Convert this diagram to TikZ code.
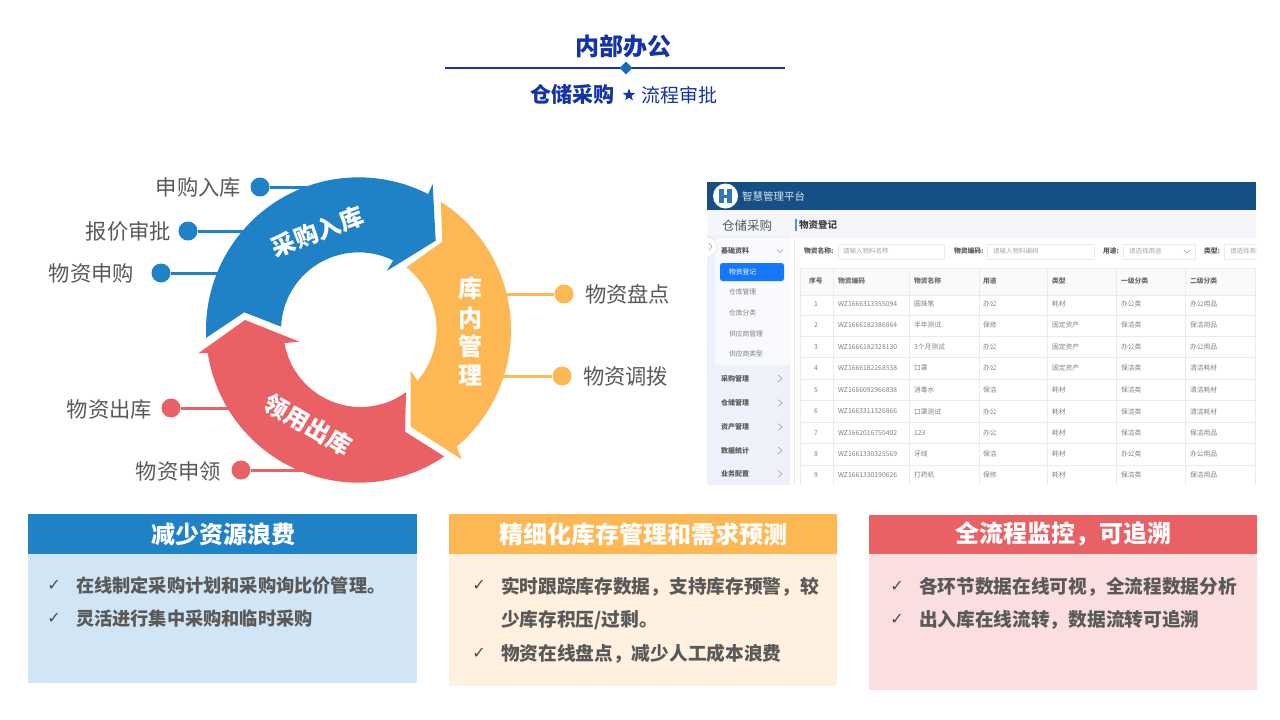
\documentclass[tikz,border=0pt]{standalone}
\usepackage{fontspec}
\setmainfont{Noto Sans CJK SC}
\newfontfamily\dejavu{DejaVu Sans}
\usetikzlibrary{shapes.geometric}
\newcommand\fz[1]{\fontsize{#1}{#1}\selectfont}
\definecolor{cblue}{HTML}{1F81C6}
\definecolor{corange}{HTML}{FDB853}
\definecolor{cred}{HTML}{E96065}
\definecolor{navy}{HTML}{1433A6}
\definecolor{lbl}{HTML}{595959}
\definecolor{bodyblue}{HTML}{D2E5F4}
\definecolor{bodyorange}{HTML}{FFF0DF}
\definecolor{bodyred}{HTML}{FADEE0}
\definecolor{uihead}{HTML}{154F85}
\definecolor{uibg}{HTML}{F4F6FB}
\definecolor{uiside}{HTML}{EEF1F9}
\definecolor{uiline}{HTML}{EBEBEB}
\definecolor{uitxt}{HTML}{808080}
\definecolor{uisel}{HTML}{1677FF}
\definecolor{uilogo}{HTML}{2F78BE}
\tikzset{
  txt/.style={inner sep=0pt,outer sep=0pt},
  ringlabel/.style={txt,font=\fz{21.3}\color{lbl}},
  dot/.style={circle,inner sep=0pt,minimum size=19pt,fill=#1},
  lead/.style={draw=#1,line width=3pt},
  ringtitle/.style={txt,font=\fz{24}\bfseries\color{white}},
  cardtitle/.style={txt,font=\fz{24}\bfseries\color{white}},
  cardtext/.style={txt,anchor=west,font=\fz{18.7}\bfseries\color{lbl}},
  tick/.style={txt,font=\dejavu\fz{16}\bfseries\color{lbl!85!black}},
  cell/.style={txt,anchor=west,font=\fz{6.8}\color{uitxt}},
  headcell/.style={txt,anchor=west,font=\fz{6.8}\bfseries\color{uitxt!85!black}},
  sideitem/.style={txt,anchor=west,font=\fz{6.8}\color{uitxt}},
  sidehead/.style={txt,anchor=west,font=\fz{7}\bfseries\color{lbl}},
  field/.style={txt,anchor=west,font=\fz{6.8}\bfseries\color{lbl}},
  hint/.style={txt,anchor=west,font=\fz{6.5}\color{black!35}},
  inputbox/.style={draw=uiline,fill=white,line width=.6pt},
  chev/.style={draw=black!40,line width=.5pt},
}
\begin{document}
\begin{tikzpicture}[x=1pt,y=-1pt]
\useasboundingbox (0,0) rectangle (1280,720);
\fill[white] (0,0) rectangle (1280,720);

% title block
\node[txt,font=\fz{24}\bfseries\color{navy}] (title) at (623,46.5) {内部办公};
\coordinate (ruleL) at (445,67.5);
\coordinate (ruleR) at (785,67.5);
\draw[draw=navy,line width=2pt] (ruleL) -- (ruleR);
\node[diamond,fill=cblue!70!navy,inner sep=0pt,minimum size=13pt] (dia) at (626,68) {};
\node[txt,font=\fz{21}\bfseries\color{navy}] (sub1) at (572,94.5) {仓储采购};
\node[star,star points=5,star point ratio=2.4,fill=navy,inner sep=0pt,minimum size=13pt] (star) at (629,95) {};
\node[txt,font=\fz{19}\color{navy}] (sub2) at (679.5,95.5) {流程审批};

% leaders and dots
\node[dot=cblue] (d1) at (260,187) {};
\node[dot=cblue] (d2) at (188,231) {};
\node[dot=cblue] (d3) at (161,273) {};
\node[dot=corange] (d4) at (564,294) {};
\node[dot=corange] (d5) at (562,376) {};
\node[dot=cred] (d6) at (171,408) {};
\node[dot=cred] (d7) at (241,470) {};
\coordinate (e1) at (320,187);
\coordinate (e2) at (250,231);
\coordinate (e3) at (225,273);
\coordinate (e4) at (500,294);
\coordinate (e5) at (495,376);
\coordinate (e6) at (235,408);
\coordinate (e7) at (305,470);
\draw[lead=cblue] (d1) -- (e1);
\draw[lead=cblue] (d2) -- (e2);
\draw[lead=cblue] (d3) -- (e3);
\draw[lead=corange] (d4) -- (e4);
\draw[lead=corange] (d5) -- (e5);
\draw[lead=cred] (d6) -- (e6);
\draw[lead=cred] (d7) -- (e7);
\node[ringlabel,anchor=east] (l1) at (241,187) {申购入库};
\node[ringlabel,anchor=east] (l2) at (171,231) {报价审批};
\node[ringlabel,anchor=east] (l3) at (134,273) {物资申购};
\node[ringlabel,anchor=west] (l4) at (585,294.5) {物资盘点};
\node[ringlabel,anchor=west] (l5) at (583,376) {物资调拨};
\node[ringlabel,anchor=east] (l6) at (152,409) {物资出库};
\node[ringlabel,anchor=east] (l7) at (221,471) {物资申领};

% ring
\begin{scope}[shift={(358.67,330)},x=1pt,y=1pt,scale=.33333]
\fill[cblue] (182.9:458) arc[start angle=182.9,end angle=62.9,radius=458]
  -- (222,438) -- (231,268) -- (84,177) -- (63.6:233)
  arc[start angle=63.6,end angle=177.5,radius=233] -- (-343,53) -- cycle;
\fill[corange] (57.4:457) arc[start angle=57.4,end angle=-50,radius=457]
  -- (309,-388) -- (156,-290) -- (156,-122) -- (-40.8:233)
  arc[start angle=-40.8,end angle=52,radius=236] -- (251,265) -- cycle;
\fill[cred] (-55.9:458) arc[start angle=-55.9,end angle=-171.3,radius=458]
  -- (-481,-70) -- (-341,30) -- (-178,-35) -- (-170:226)
  arc[start angle=-170,end angle=-54,radius=232] -- (139,-305) -- cycle;
\end{scope}
\node[ringtitle,rotate=21] (rt1) at (317.5,231.5) {采购入库};
\node[ringtitle,rotate=-30] (rt3) at (308,425) {领用出库};
\node[ringtitle] (rt2a) at (470,288.5) {库};
\node[ringtitle] (rt2b) at (470,318) {内};
\node[ringtitle] (rt2c) at (470,346.5) {管};
\node[ringtitle] (rt2d) at (470,375) {理};

% screenshot
\begin{scope}
\clip (707,182) rectangle (1256,485);
\fill[white] (707,182) rectangle (1256,485);
\fill[uibg] (707,210) rectangle (1256,238);
\fill[uiside] (707,235) rectangle (790,485);
\fill[uibg!50!white,rounded corners=2pt] (715,238) rectangle (790,365);
\fill[uihead] (707,182) rectangle (1256,210);
\node[circle,fill=white,inner sep=0pt,minimum size=25pt] (logo) at (725.5,196) {};
\fill[uilogo] (719,189) rectangle (724,203);
\fill[uilogo] (727,189) rectangle (732,203);
\fill[uilogo] (724,194.5) rectangle (727,197.5);
\node[txt,anchor=west,font=\fz{10.5}\color{white!85!uihead}] (plat) at (742,196) {智慧管理平台};
\node[txt,font=\fz{12.5}\color{lbl}] (wh) at (747,225.5) {仓储采购};
\fill[uilogo!80!white] (794.5,219) rectangle (796.5,231);
\node[txt,anchor=west,font=\fz{9.5}\bfseries\color{black!75}] (page) at (799,225) {物资登记};
\fill[white] (795,238) rectangle (1256,485);
\draw[uiline,line width=.5pt] (794.5,238) -- (794.5,485);
% toggle
\fill[black!10] (707,247) circle[radius=10];
\fill[white] (707,247) circle[radius=9.3];
\draw[chev] (709,243) -- (712,246.5) -- (709,250);
% side menu
\node[sidehead] (s0) at (721,251) {基础资料};
\draw[chev] (777,249.5) -- (780,252.5) -- (783,249.5);
\fill[uisel,rounded corners=2.5pt] (720,263) rectangle (784,281);
\node[sideitem,text=white] (s1) at (729,272) {物资登记};
\node[sideitem] (s2) at (729,292) {仓库管理};
\node[sideitem] (s3) at (729,313) {仓库分类};
\node[sideitem] (s4) at (729,333.5) {供应商管理};
\node[sideitem] (s5) at (729,354) {供应商类型};
\foreach \y/\t [count=\k] in {378.5/采购管理,403/仓储管理,427/资产管理,450.5/数据统计,474/业务配置}{
  \node[sidehead] (m\k) at (721,\y) {\t};
  \draw[chev] (778,\y-3.5) -- (782,\y) -- (778,\y+3.5);
}
% search row
\node[field] (f1) at (804,251) {物资名称:};
\draw[inputbox] (838,244) rectangle (944,259);
\node[hint] (h1) at (843,251.5) {请输入物料名称};
\node[field] (f2) at (954,251) {物资编码:};
\draw[inputbox] (987,244) rectangle (1094,259);
\node[hint] (h2) at (993,251.5) {请输入物料编码};
\node[field] (f3) at (1103,251) {用途:};
\draw[inputbox] (1123,244) rectangle (1195,259);
\node[hint] (h3) at (1129,251.5) {请选择用途};
\draw[chev] (1184,250) -- (1187,253) -- (1190,250);
\node[field] (f4) at (1204,251) {类型:};
\draw[inputbox] (1224,244) rectangle (1270,259);
\node[hint] (h4) at (1230,251.5) {请选择类型};
% table
\fill[black!2] (800,268) rectangle (1256,295);
\foreach \x in {800,833.5,909,979.5,1047.5,1116.5,1185.5,1255}{
  \draw[uiline,line width=.5pt] (\x,268) -- (\x,485);
}
\foreach \y in {268,295,315.5,336.5,357.5,379.5,400.5,422,443,465}{
  \draw[uiline,line width=.5pt] (800,\y) -- (1256,\y);
}
\node[headcell] (hc0) at (809,281) {序号};
\node[headcell] (hc1) at (838,281) {物资编码};
\node[headcell] (hc2) at (914,281) {物资名称};
\node[headcell] (hc3) at (983,281) {用途};
\node[headcell] (hc4) at (1052,281) {类型};
\node[headcell] (hc5) at (1121,281) {一级分类};
\node[headcell] (hc6) at (1190,281) {二级分类};
\foreach \y/\code/\nm/\use/\typ/\ca/\cb [count=\k] in {
 304/WZ1666313355094/圆珠笔/办公/耗材/办公类/办公用品,
 325/WZ1666182386864/半年测试/保修/固定资产/保洁类/保洁用品,
 347/WZ1666182328130/3个月测试/办公/固定资产/办公类/办公用品,
 368/WZ1666182268538/口罩/办公/固定资产/保洁类/清洁耗材,
 390/WZ1666092966838/消毒水/保洁/耗材/保洁类/清洁耗材,
 411.5/WZ1663311326866/口罩测试/办公/耗材/保洁类/清洁耗材,
 433/WZ1662016750402/123/办公/耗材/保洁类/保洁用品,
 454/WZ1661330325569/牙线/保洁/耗材/办公类/办公用品,
 475/WZ1661330190626/打药机/保修/耗材/保洁类/保洁用品}{
  \node[cell,anchor=center] (r\k a) at (816,\y) {\k};
  \node[cell] (r\k b) at (838,\y) {\code};
  \node[cell] (r\k c) at (914,\y) {\nm};
  \node[cell] (r\k d) at (983,\y) {\use};
  \node[cell] (r\k e) at (1052,\y) {\typ};
  \node[cell] (r\k f) at (1121,\y) {\ca};
  \node[cell] (r\k g) at (1190,\y) {\cb};
}
\end{scope}

% cards
\fill[bodyblue] (28,554) rectangle (417,683);
\fill[cblue] (28,514) rectangle (417,554);
\node[cardtitle] (c1) at (223,534) {减少资源浪费};
\node[tick] (t11) at (54,585) {✓};
\node[cardtext,font=\fz{18.2}\bfseries\color{lbl}] (x11) at (76,586) {在线制定采购计划和采购询比价管理。};
\node[tick] (t12) at (54,618) {✓};
\node[cardtext,font=\fz{18.2}\bfseries\color{lbl}] (x12) at (76,619) {灵活进行集中采购和临时采购};

\fill[bodyorange] (449,554) rectangle (837,686);
\fill[corange] (449,514) rectangle (837,554);
\node[cardtitle] (c2) at (643,534) {精细化库存管理和需求预测};
\node[tick] (t21) at (479,585) {✓};
\node[cardtext] (x21) at (501,587) {实时跟踪库存数据，支持库存预警，较};
\node[cardtext] (x22) at (501,620) {少库存积压/过剩。};
\node[tick] (t22) at (479,653) {✓};
\node[cardtext] (x23) at (501,654) {物资在线盘点，减少人工成本浪费};

\fill[bodyred] (869,554) rectangle (1257,690);
\fill[cred] (869,515) rectangle (1257,554);
\node[cardtitle] (c3) at (1063,534) {全流程监控，可追溯};
\node[tick] (t31) at (897,586) {✓};
\node[cardtext] (x31) at (919,587) {各环节数据在线可视，全流程数据分析};
\node[tick] (t32) at (897,619) {✓};
\node[cardtext] (x32) at (919,620) {出入库在线流转，数据流转可追溯};
\end{tikzpicture}
\end{document}
